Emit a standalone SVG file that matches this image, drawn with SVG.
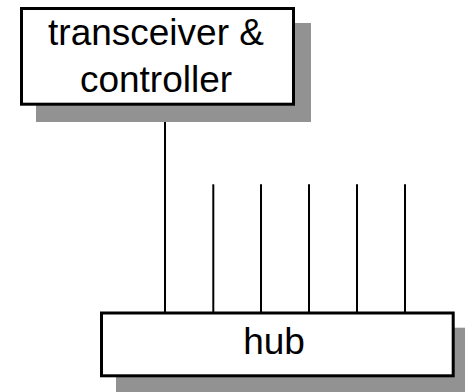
<svg xmlns="http://www.w3.org/2000/svg" width="465" height="392" viewBox="0 0 465 392">
  <style>
    .shadow { fill: #929292; stroke: none; }
    .box { fill: #ffffff; stroke: #000000; stroke-width: 3; }
    .label { font-family: "Liberation Sans", Arial, sans-serif; font-size: 37px; fill: #000000; text-anchor: middle; }
    .wire { stroke: #000000; stroke-width: 2; fill: none; }
  </style>
  <rect width="465" height="392" fill="#ffffff"/>

  <!-- connectors -->
  <g id="connectors">
    <line class="wire" x1="165" y1="104" x2="165" y2="313"/>
    <line class="wire" x1="213.3" y1="184.3" x2="213.3" y2="313"/>
    <line class="wire" x1="261" y1="184.3" x2="261" y2="313"/>
    <line class="wire" x1="309" y1="184.3" x2="309" y2="313"/>
    <line class="wire" x1="357" y1="184.3" x2="357" y2="313"/>
    <line class="wire" x1="405" y1="184.3" x2="405" y2="313"/>
  </g>

  <!-- transceiver & controller -->
  <g id="controller">
    <rect class="shadow" x="36" y="23" width="275" height="99"/>
    <rect class="box" x="21.5" y="8.5" width="272" height="95.7"/>
    <text class="label" x="156" y="44.5">transceiver &amp;</text>
    <text class="label" x="156" y="91.8">controller</text>
  </g>

  <!-- hub -->
  <g id="hub">
    <rect class="shadow" x="116" y="327.7" width="352" height="68"/>
    <rect class="box" x="101.5" y="313" width="351.7" height="62.8"/>
    <text class="label" x="274" y="353.5">hub</text>
  </g>
</svg>
